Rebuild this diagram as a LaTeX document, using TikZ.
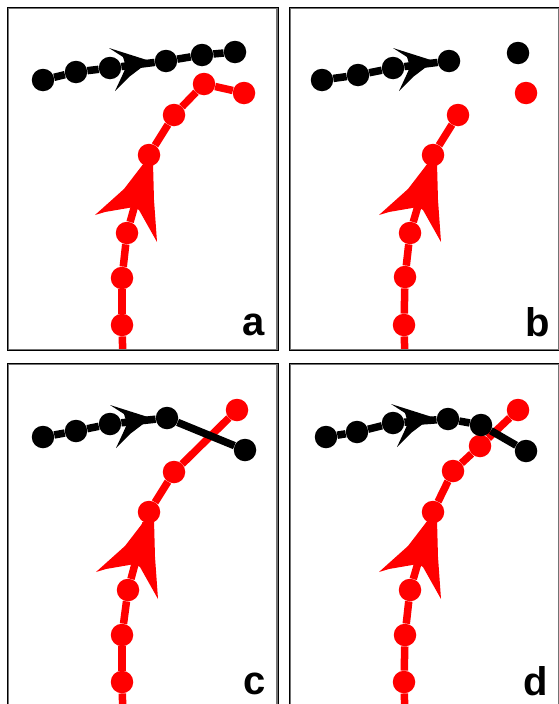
\documentclass[tikz,border=0pt]{standalone}
\usepackage{fontspec}
\setmainfont{Liberation Sans}
\begin{document}
\begin{tikzpicture}[x=1pt,y=-1pt,
  rdot/.style={circle,fill=red,inner sep=0pt,minimum size=22.5pt},
  kdot/.style={circle,fill=black,inner sep=0pt,minimum size=22.5pt},
  rline/.style={draw=red,line width=7.5pt},
  kline/.style={draw=black,line width=7.5pt},
  rarrow/.style={fill=red},
  karrow/.style={fill=black},
  frameout/.style={draw=black,line width=1.2pt},
  framein/.style={draw=black!55,line width=1.2pt},
  lab/.style={anchor=base,inner sep=0pt,font=\fontsize{40}{40}\selectfont\bfseries}]
\useasboundingbox (0,0) rectangle (558,704);
\fill[white] (0,0) rectangle (558,704);

% ---------------- panel a ----------------
\begin{scope}
  \begin{scope}
    \clip (8,8) rectangle (277,350);
    \coordinate (a-r0) at (123,362);
    \node[rdot] (a-r1) at (122,325) {};
    \node[rdot] (a-r2) at (122,278) {};
    \node[rdot] (a-r3) at (127,233) {};
    \node[rdot] (a-r4) at (149,155) {};
    \node[rdot] (a-r5) at (174,115) {};
    \node[rdot] (a-r6) at (204,84) {};
    \node[rdot] (a-r7) at (244,93) {};
    \draw[rline] (a-r0) -- (a-r1);
    \draw[rline] (a-r1) -- (a-r2);
    \draw[rline] (a-r2) -- (a-r3);
    \draw[rline] (a-r3) -- (a-r4);
    \draw[rline] (a-r4) -- (a-r5);
    \draw[rline] (a-r5) -- (a-r6);
    \draw[rline] (a-r6) -- (a-r7);
    \fill[rarrow] (144,163) -- (153,163) -- (154,200) -- (157,242) -- (139,210) -- (134,207) -- (105,212) -- (95,215) -- (124,189) -- cycle;
    \node[kdot] (a-k1) at (43,80) {};
    \node[kdot] (a-k2) at (76,72) {};
    \node[kdot] (a-k3) at (110,68) {};
    \node[kdot] (a-k4) at (166,61) {};
    \node[kdot] (a-k5) at (202,55) {};
    \node[kdot] (a-k6) at (235,52) {};
    \draw[kline] (a-k1) -- (a-k2);
    \draw[kline] (a-k2) -- (a-k3);
    \draw[kline] (a-k3) -- (a-k4);
    \draw[kline] (a-k4) -- (a-k5);
    \draw[kline] (a-k5) -- (a-k6);
    \fill[karrow] (150,61) -- (109,48) -- (123,57) -- (126,67) -- (122,76) -- (115,91) -- (129,77) -- cycle;
  \end{scope}
  \draw[frameout] (7.5,7.5) rectangle (278.2,350.8);
  \draw[framein] (8.7,8.7) rectangle (277,349.6);
  \node[lab] (a-lab) at (253.5,335) {a};
\end{scope}

% ---------------- panel b ----------------
\begin{scope}[shift={(282,0)}]
  \begin{scope}
    \clip (8,8) rectangle (277,350);
    \coordinate (b-r0) at (123,362);
    \node[rdot] (b-r1) at (122,325) {};
    \node[rdot] (b-r2) at (123,277) {};
    \node[rdot] (b-r3) at (128,233) {};
    \node[rdot] (b-r4) at (151,155) {};
    \node[rdot] (b-r5) at (176,115) {};
    \node[rdot] (b-r7) at (244,93) {};
    \draw[rline] (b-r0) -- (b-r1);
    \draw[rline] (b-r1) -- (b-r2);
    \draw[rline] (b-r2) -- (b-r3);
    \draw[rline] (b-r3) -- (b-r4);
    \draw[rline] (b-r4) -- (b-r5);
    \begin{scope}[shift={(2,0)}]
      \fill[rarrow] (144,163) -- (153,163) -- (154,200) -- (157,242) -- (139,210) -- (134,207) -- (105,212) -- (95,215) -- (124,189) -- cycle;
    \end{scope}
    \node[kdot] (b-k1) at (40,80) {};
    \node[kdot] (b-k2) at (76,75) {};
    \node[kdot] (b-k3) at (111,68) {};
    \node[kdot] (b-k4) at (167,61) {};
    \node[kdot] (b-k6) at (236,53) {};
    \draw[kline] (b-k1) -- (b-k2);
    \draw[kline] (b-k2) -- (b-k3);
    \draw[kline] (b-k3) -- (b-k4);
    \begin{scope}[shift={(2,0)}]
      \fill[karrow] (150,61) -- (109,48) -- (123,57) -- (126,67) -- (122,76) -- (115,91) -- (129,77) -- cycle;
    \end{scope}
  \end{scope}
  \draw[frameout] (7.5,7.5) rectangle (278.2,350.8);
  \draw[framein] (8.7,8.7) rectangle (277,349.6);
  \node[lab] (b-lab) at (255.5,336) {b};
\end{scope}

% ---------------- panel c ----------------
\begin{scope}[shift={(0,356)}]
  \begin{scope}
    \clip (8,8) rectangle (277,350);
    \coordinate (c-r0) at (123,362);
    \node[rdot] (c-r1) at (122,326) {};
    \node[rdot] (c-r2) at (122,279) {};
    \node[rdot] (c-r3) at (128,234) {};
    \node[rdot] (c-r4) at (149,156) {};
    \node[rdot] (c-r5) at (174,116) {};
    \node[rdot] (c-r6) at (237,54) {};
    \draw[rline] (c-r0) -- (c-r1);
    \draw[rline] (c-r1) -- (c-r2);
    \draw[rline] (c-r2) -- (c-r3);
    \draw[rline] (c-r3) -- (c-r4);
    \draw[rline] (c-r4) -- (c-r5);
    \draw[rline] (c-r5) -- (c-r6);
    \begin{scope}[shift={(1,1)}]
      \fill[rarrow] (144,163) -- (153,163) -- (154,200) -- (157,242) -- (139,210) -- (134,207) -- (105,212) -- (95,215) -- (124,189) -- cycle;
    \end{scope}
    \node[kdot] (c-k1) at (43,81) {};
    \node[kdot] (c-k2) at (76,75) {};
    \node[kdot] (c-k3) at (110,68) {};
    \node[kdot] (c-k4) at (167,62) {};
    \node[kdot] (c-k5) at (245,94) {};
    \draw[kline] (c-k1) -- (c-k2);
    \draw[kline] (c-k2) -- (c-k3);
    \draw[kline] (c-k3) -- (c-k4);
    \draw[kline] (c-k4) -- (c-k5);
    \begin{scope}[shift={(1,1)}]
      \fill[karrow] (150,61) -- (109,48) -- (123,57) -- (126,67) -- (122,76) -- (115,91) -- (129,77) -- cycle;
    \end{scope}
  \end{scope}
  \draw[frameout] (7.5,7.5) rectangle (278.2,350.8);
  \draw[framein] (8.7,8.7) rectangle (277,349.6);
  \node[lab] (c-lab) at (255,338) {c};
\end{scope}

% ---------------- panel d ----------------
\begin{scope}[shift={(282,356)}]
  \begin{scope}
    \clip (8,8) rectangle (277,350);
    \coordinate (d-r0) at (123,362);
    \node[rdot] (d-r1) at (122,326) {};
    \node[rdot] (d-r2) at (123,279) {};
    \node[rdot] (d-r3) at (128,234) {};
    \node[rdot] (d-r4) at (151,156) {};
    \node[rdot] (d-r5) at (171,115) {};
    \node[rdot] (d-r6) at (198,90) {};
    \node[rdot] (d-r7) at (236,54) {};
    \draw[rline] (d-r0) -- (d-r1);
    \draw[rline] (d-r1) -- (d-r2);
    \draw[rline] (d-r2) -- (d-r3);
    \draw[rline] (d-r3) -- (d-r4);
    \draw[rline] (d-r4) -- (d-r5);
    \draw[rline] (d-r5) -- (d-r6);
    \draw[rline] (d-r6) -- (d-r7);
    \begin{scope}[shift={(2,1)}]
      \fill[rarrow] (144,163) -- (153,163) -- (154,200) -- (157,242) -- (139,210) -- (134,207) -- (105,212) -- (95,215) -- (124,189) -- cycle;
    \end{scope}
    \node[kdot] (d-k1) at (44,81) {};
    \node[kdot] (d-k2) at (75,76) {};
    \node[kdot] (d-k3) at (111,67) {};
    \node[kdot] (d-k4) at (166,63) {};
    \node[kdot] (d-k5) at (199,69) {};
    \node[kdot] (d-k6) at (244,95) {};
    \draw[kline] (d-k1) -- (d-k2);
    \draw[kline] (d-k2) -- (d-k3);
    \draw[kline] (d-k3) -- (d-k4);
    \draw[kline] (d-k4) -- (d-k5);
    \draw[kline] (d-k5) -- (d-k6);
    \begin{scope}[shift={(0,0)}]
      \fill[karrow] (150,61) -- (109,48) -- (123,57) -- (126,67) -- (122,76) -- (115,91) -- (129,77) -- cycle;
    \end{scope}
  \end{scope}
  \draw[frameout] (7.5,7.5) rectangle (278.2,350.8);
  \draw[framein] (8.7,8.7) rectangle (277,349.6);
  \node[lab] (d-lab) at (254,339) {d};
\end{scope}
\end{tikzpicture}
\end{document}
